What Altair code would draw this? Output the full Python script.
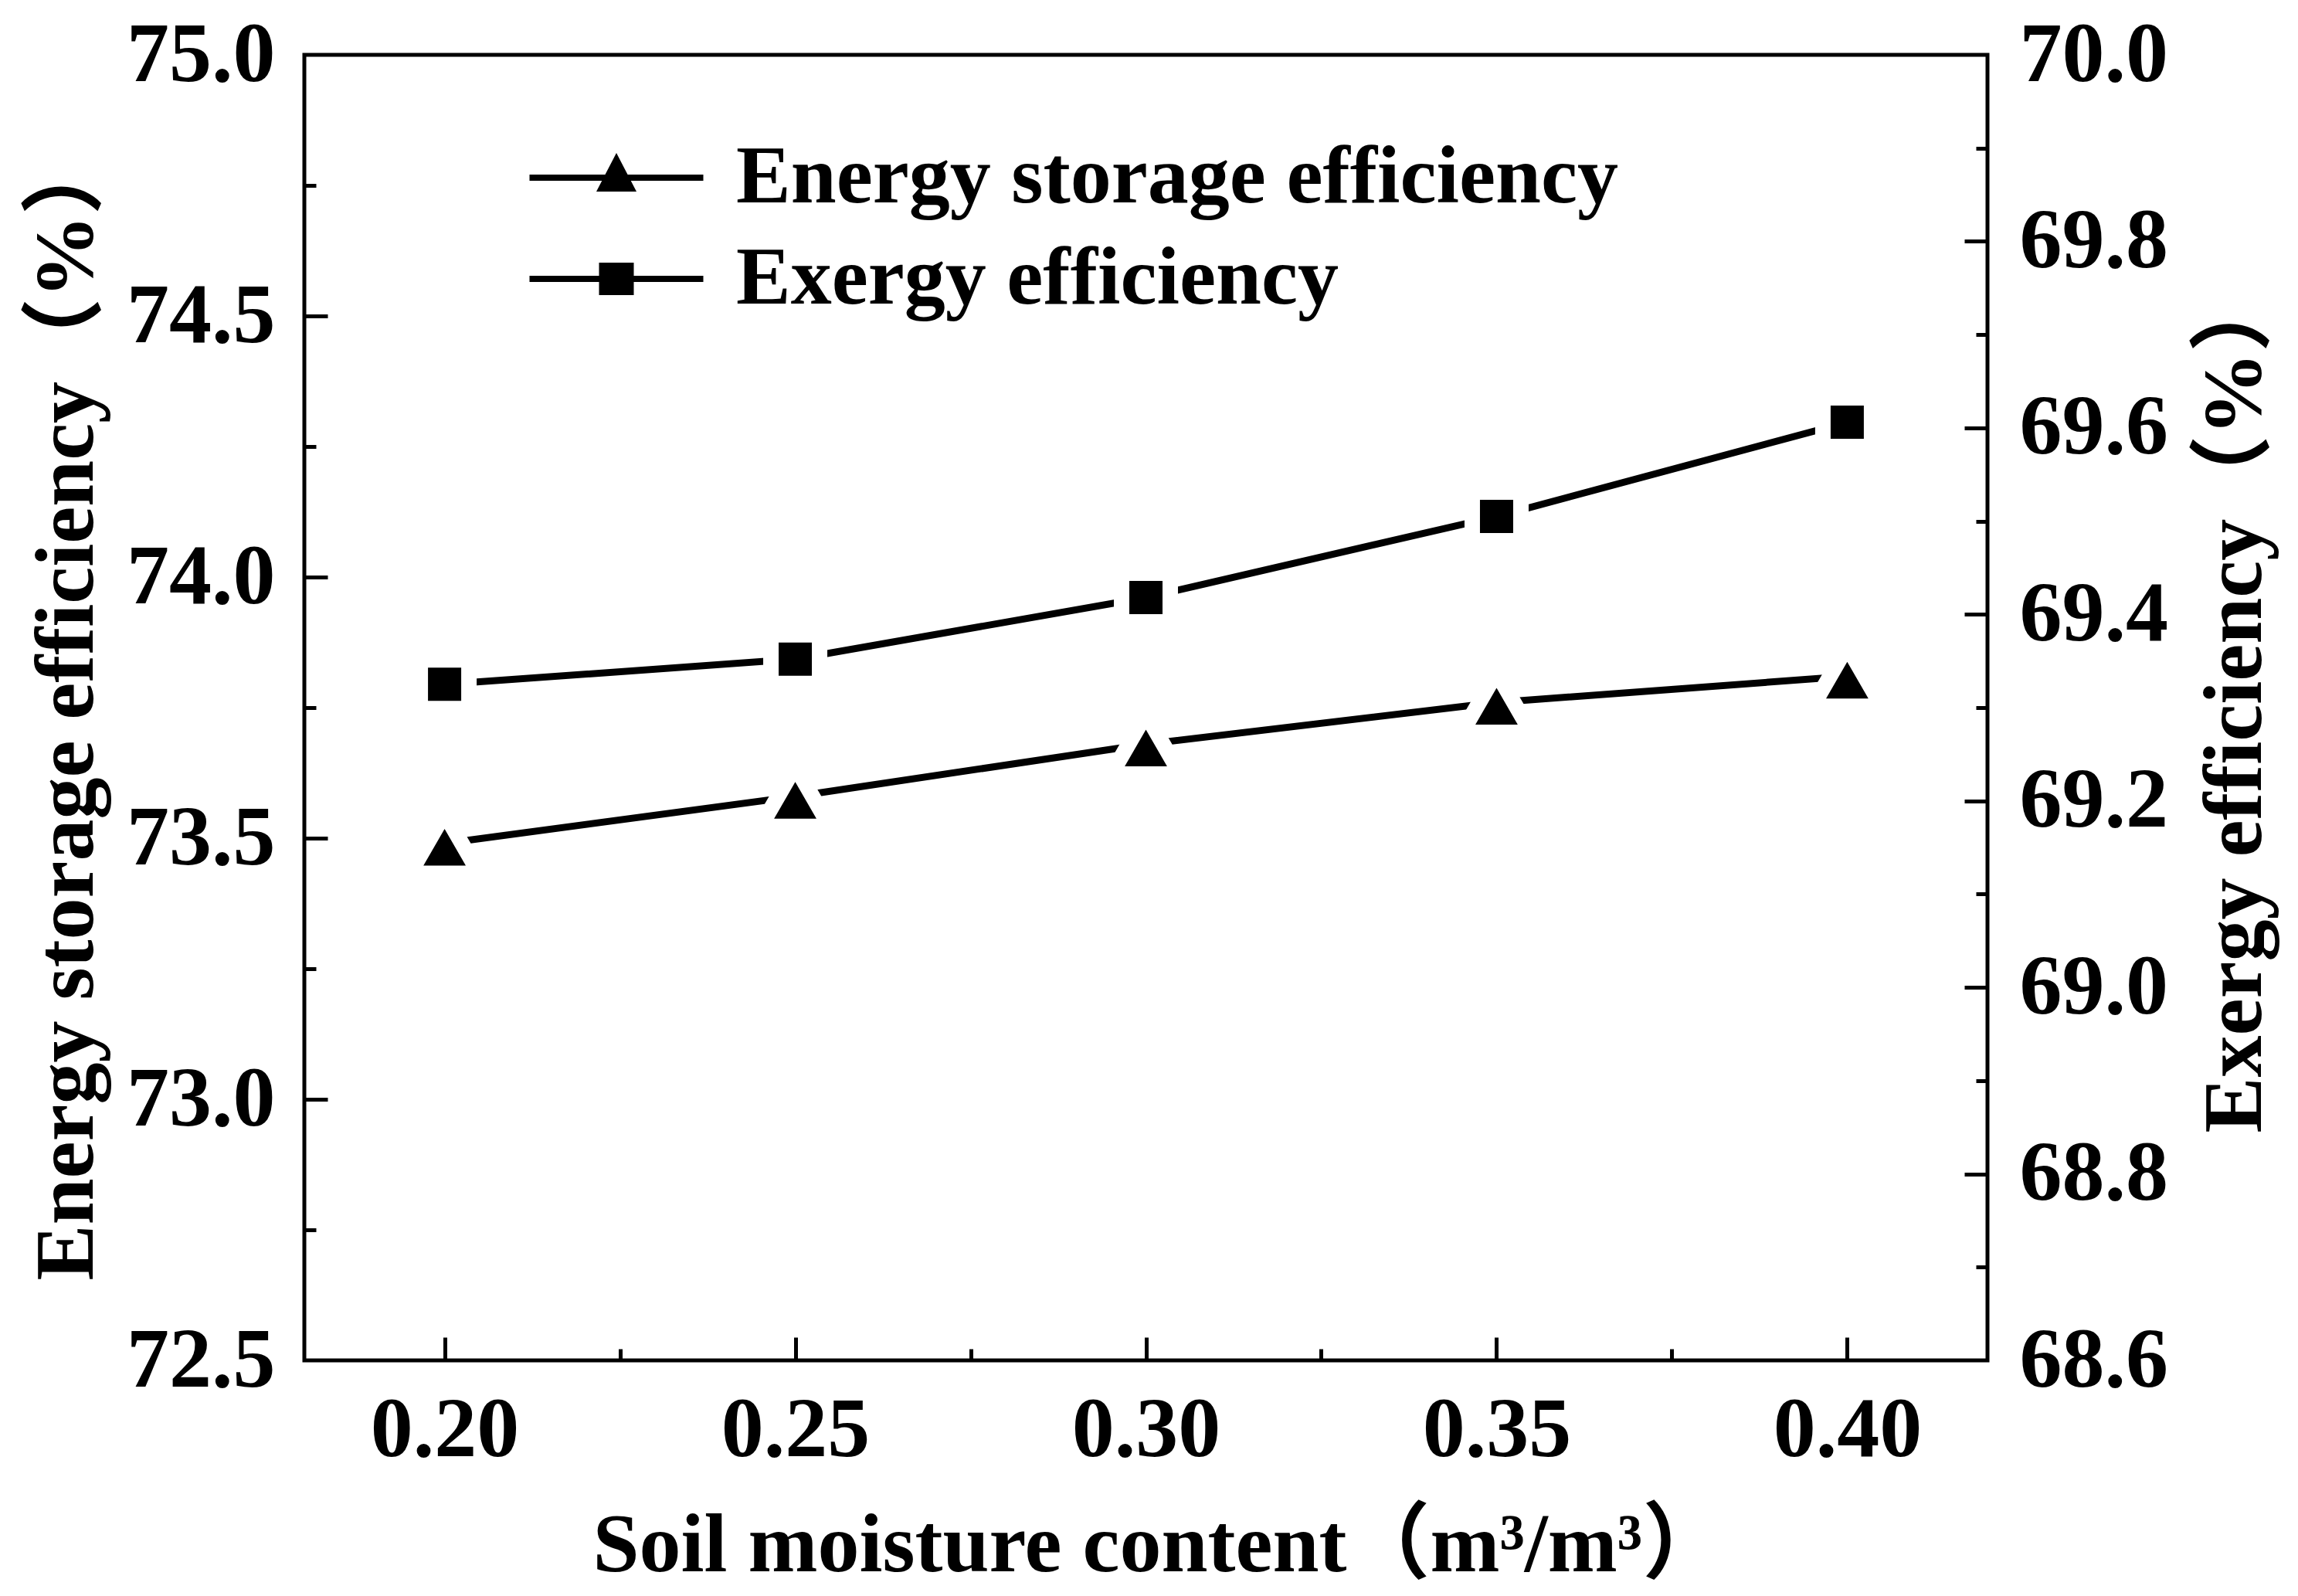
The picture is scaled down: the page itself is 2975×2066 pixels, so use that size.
import pandas as pd
import altair as alt

# data
moisture = [0.20, 0.25, 0.30, 0.35, 0.40]
energy_eff = [73.49, 73.58, 73.68, 73.76, 73.81]
exergy_eff = [69.325, 69.352, 69.418, 69.505, 69.606]
series = ['Energy storage efficiency', 'Exergy efficiency']

# axis ticks
x_labels = [0.20, 0.25, 0.30, 0.35, 0.40]
x_ticks = [0.20, 0.225, 0.25, 0.275, 0.30, 0.325, 0.35, 0.375, 0.40]
left_labels = [72.5, 73.0, 73.5, 74.0, 74.5, 75.0]
left_ticks = [72.75, 73.0, 73.25, 73.5, 73.75, 74.0, 74.25, 74.5, 74.75]
right_labels = [68.6, 68.8, 69.0, 69.2, 69.4, 69.6, 69.8, 70.0]
right_ticks = [68.7, 68.8, 68.9, 69.0, 69.1, 69.2, 69.3, 69.4, 69.5, 69.6, 69.7, 69.8, 69.9]

FONT = 'Liberation Serif, Noto Sans CJK SC'
W, H = 2179, 1690

energy_df = pd.DataFrame({'moisture': moisture, 'value': energy_eff})
exergy_df = pd.DataFrame({'moisture': moisture, 'value': exergy_eff})
legend_df = pd.DataFrame({'moisture': moisture + moisture,
                          'value': energy_eff + exergy_eff,
                          'series': [series[0]] * 5 + [series[1]] * 5})

x_scale = alt.Scale(domain=[0.18, 0.42], nice=False, zero=False)
energy_scale = alt.Scale(domain=[72.5, 75.0], nice=False, zero=False)
exergy_scale = alt.Scale(domain=[68.6, 70.0], nice=False, zero=False)

label_style = dict(labelFont=FONT, labelFontSize=110, labelFontWeight='bold',
                   labelColor='black', labelLimit=1000, grid=False, domain=False)
title_style = dict(titleFont=FONT, titleFontSize=108, titleFontWeight='bold',
                   titleColor='black', titleLimit=3000)


def tick_size(mult):
    # long tick on major values, short on minor ones
    return {'condition': {'test': f'abs(datum.value*{mult} - round(datum.value*{mult})) < 0.001',
                          'value': 30}, 'value': 15}


def inner_ticks(orient, values, mult, offset):
    return alt.Axis(orient=orient, offset=offset, values=values, labels=False,
                    domain=False, grid=False, title=None, tickColor='black',
                    tickWidth=5, tickSize=tick_size(mult))


x_main = alt.Axis(orient='bottom', values=x_labels, format='.2f', ticks=False, tickSize=0,
                  labelPadding=123, labelBaseline='alphabetic',
                  title='Soil moisture content（m³/m³）', titleX=373, titleY=272,
                  titleAlign='left', titleBaseline='alphabetic',
                  **label_style, **title_style)
left_main = alt.Axis(orient='left', values=left_labels, format='.1f', ticks=False, tickSize=0,
                     labelPadding=38,
                     title='Energy storage efficiency（%）', titleAngle=270,
                     titleX=-307, titleY=1586, titleAlign='left', titleBaseline='middle',
                     **label_style, **title_style)
right_main = alt.Axis(orient='right', values=right_labels, format='.1f', ticks=False, tickSize=0,
                      labelPadding=41,
                      title='Exergy efficiency（%）', titleAngle=270,
                      titleX=321, titleY=1395, titleAlign='left', titleBaseline='middle',
                      **label_style, **title_style)

# legend symbols: a bar for the line plus the marker, all filled
tri_path = 'M-4.5,-0.16H4.5V0.16H-4.5Z M0,-1.28L1.04,0.72L-1.04,0.72Z'
sq_path = 'M-4.5,-0.16H4.5V0.16H-4.5Z M-0.9,-0.84H0.9V0.84H-0.9Z'

energy_line = alt.Chart(energy_df).mark_line(color='black', strokeWidth=9).encode(
    x=alt.X('moisture:Q', scale=x_scale, axis=x_main),
    y=alt.Y('value:Q', scale=energy_scale, axis=left_main),
)
energy_pts = alt.Chart(energy_df).mark_point(
    shape='triangle-up', filled=True, fill='black', stroke='white',
    strokeWidth=20, size=8000, opacity=1
).encode(
    x=alt.X('moisture:Q', scale=x_scale, axis=inner_ticks('top', x_ticks, 20, -H)),
    y=alt.Y('value:Q', scale=energy_scale, axis=inner_ticks('right', left_ticks, 2, -W)),
)
energy_layer = alt.layer(energy_line, energy_pts).resolve_axis(x='independent', y='independent')

exergy_line = alt.Chart(exergy_df).mark_line(color='black', strokeWidth=9).encode(
    x=alt.X('moisture:Q', scale=x_scale, axis=None),
    y=alt.Y('value:Q', scale=exergy_scale, axis=right_main),
)
exergy_pts = alt.Chart(exergy_df).mark_point(
    shape='square', filled=True, fill='black', stroke='white',
    strokeWidth=20, size=3969, opacity=1
).encode(
    x=alt.X('moisture:Q', scale=x_scale, axis=None),
    y=alt.Y('value:Q', scale=exergy_scale, axis=inner_ticks('left', right_ticks, 5, -W)),
)
exergy_layer = alt.layer(exergy_line, exergy_pts).resolve_axis(y='independent')

legend = alt.Legend(orient='none', legendX=351, legendY=106, title=None, padding=0,
                    labelFont=FONT, labelFontSize=106, labelFontWeight='bold',
                    labelColor='black', labelOffset=102, labelLimit=3000,
                    symbolSize=2500, symbolStrokeWidth=0,
                    symbolFillColor='black', symbolOpacity=1, rowPadding=25)

legend_layer = alt.Chart(legend_df).mark_point(filled=True, color='black', opacity=0).encode(
    x=alt.X('moisture:Q', scale=x_scale, axis=None),
    y=alt.Y('value:Q', scale=alt.Scale(zero=False), axis=None),
    shape=alt.Shape('series:N', scale=alt.Scale(domain=series, range=[tri_path, sq_path]),
                    legend=legend),
)

chart = alt.layer(energy_layer, exergy_layer, legend_layer).resolve_scale(
    y='independent'
).properties(
    width=W, height=H,
    autosize=alt.AutoSizeParams(type='none'),
    padding={'left': 386, 'top': 63, 'right': 394, 'bottom': 297},
    background='white',
).configure_view(stroke='black', strokeWidth=5)

chart.save('out.html', embed_options={'renderer': 'svg', 'actions': False})
